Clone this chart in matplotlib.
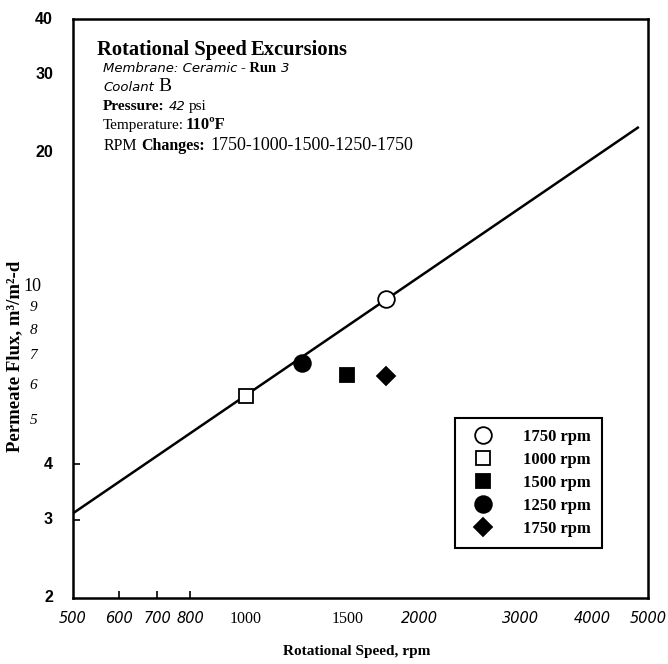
import matplotlib
matplotlib.use("Agg")
import matplotlib.pyplot as plt
from matplotlib.lines import Line2D
from matplotlib.transforms import blended_transform_factory

# ---- data ----
speeds = [1750, 1000, 1500, 1250, 1750]
flux = [9.4, 5.7, 6.35, 6.75, 6.3]
markers = ['o', 's', 's', 'o', 'D']
filled = [False, False, True, True, True]
labels = ['1750 rpm', '1000 rpm', '1500 rpm', '1250 rpm', '1750 rpm']

fit_x = [500, 4800]
fit_y = [3.1, 22.8]

xtick_vals = [500, 600, 700, 800, 1000, 1500, 2000, 3000, 4000, 5000]
xtick_text = ['500', '600', '700', '800', '1000', '1500', '2000', '3000', '4000', '5000']
ytick_vals = [40, 30, 20, 10, 9, 8, 7, 6, 5, 4, 3, 2]
ytick_text = ['40', '30', '20', '10', '9', '8', '7', '6', '5', '4', '3', '2']

W, H = 668, 664
fig = plt.figure(figsize=(W / 100, H / 100), dpi=100)
ax = fig.add_axes([73 / W, 1 - 598 / H, (648 - 73) / W, (598 - 19) / H])
ax.set_xscale('log')
ax.set_yscale('log')
ax.set_xlim(500, 5000)
ax.set_ylim(2, 40)
for s in ax.spines.values():
    s.set_linewidth(1.8)

SERIF = ['Liberation Serif', 'DejaVu Serif']
NARROW = ['DejaVu Sans']
SANS = ['Liberation Sans', 'DejaVu Sans']

# regression line
ax.plot(fit_x, fit_y, color='black', lw=1.8, zorder=2)

handles = []
for xv, yv, m, f, lab in zip(speeds, flux, markers, filled, labels):
    ms = {'o': 12, 's': 10, 'D': 9.5}[m]
    style = dict(linestyle='none', marker=m, markersize=ms,
                 markerfacecolor='black' if f else 'white',
                 markeredgecolor='black', markeredgewidth=1.3)
    ax.plot([xv], [yv], zorder=3, **style)
    handles.append(Line2D([], [], label=lab, **style))

# ticks
ax.xaxis.set_minor_locator(matplotlib.ticker.NullLocator())
ax.yaxis.set_minor_locator(matplotlib.ticker.NullLocator())
ax.set_xticks([600, 700, 800], ['', '', ''])
ax.set_yticks([3, 4], ['', ''])
ax.tick_params(axis='both', direction='in', length=5, width=1.2)

# x tick labels
tx = blended_transform_factory(ax.transData, fig.transFigure)
for v, t in zip(xtick_vals, xtick_text):
    if t in ('1000', '1500'):
        ax.text(v, 1 - 623 / H, t, transform=tx, ha='center', va='baseline',
                family=SERIF, fontsize=11.5)
    else:
        ax.text(v, 1 - 623 / H, t, transform=tx, ha='center', va='baseline',
                family=NARROW, style='italic', fontsize=10.5)

# y tick labels
ty = blended_transform_factory(fig.transFigure, ax.transData)
for v, t in zip(ytick_vals, ytick_text):
    if t in ('40', '30', '20', '4', '3', '2'):
        ax.text(53 / W, v, t, transform=ty, ha='right', va='center',
                family=SANS, weight='bold', fontsize=11.5)
    elif t == '10':
        ax.text(41 / W, v, t, transform=ty, ha='right', va='center',
                family=SERIF, fontsize=13)
    else:
        ax.text(37 / W, v, t, transform=ty, ha='right', va='center',
                family=SERIF, style='italic', fontsize=11)

# axis labels
fig.text(357 / W, 1 - 652 / H, 'Rotational Speed, rpm', ha='center', va='center',
         family=SERIF, weight='bold', fontsize=11)
fig.text(15 / W, 1 - 356 / H, 'Permeate Flux, m³/m²-d', ha='center', va='center',
         rotation=90, family=SERIF, weight='bold', fontsize=13.5)

# annotation block with mixed fonts
renderer = fig.canvas.get_renderer()


def rich(x, y, parts):
    cx = x
    for s, kw, gap in parts:
        t = fig.text(cx / W, 1 - y / H, s, ha='left', va='baseline', **kw)
        bb = t.get_window_extent(renderer)
        cx = bb.x1 + gap


bold_serif = dict(family=SERIF, weight='bold')
reg_serif = dict(family=SERIF)
it_narrow = dict(family=NARROW, style='italic')

rich(97, 55, [('Rotational Speed', dict(bold_serif, fontsize=14.8), 4),
              ('Excursions', dict(bold_serif, fontsize=14.8), 0)])
rich(103, 72, [('Membrane: Ceramic', dict(it_narrow, fontsize=9.5), 4),
               ('- Run', dict(bold_serif, fontsize=10.5), 4),
               ('3', dict(it_narrow, fontsize=9.5), 0)])
rich(103, 91, [('Coolant', dict(it_narrow, fontsize=9.5), 5),
               ('B', dict(reg_serif, fontsize=14), 0)])
rich(103, 110, [('Pressure:', dict(bold_serif, fontsize=11), 4),
                ('42', dict(it_narrow, fontsize=9.5), 3),
                ('psi', dict(reg_serif, fontsize=11), 0)])
rich(103, 129, [('Temperature:', dict(reg_serif, fontsize=11), 2),
                ('110ºF', dict(bold_serif, fontsize=12), 0)])
rich(104, 150, [('RPM', dict(reg_serif, fontsize=11.5), 4),
                ('Changes:', dict(bold_serif, fontsize=11.5), 5),
                ('1750-1000-1500-1250-1750', dict(reg_serif, fontsize=13), 0)])

# legend
leg = ax.legend(handles=handles, loc='upper left',
                bbox_to_anchor=((455 - 73) / (648 - 73), 1 - (418 - 19) / (598 - 19)),
                frameon=True, fancybox=False, edgecolor='black', framealpha=1,
                prop=dict(family=SERIF, weight='bold', size=12),
                handletextpad=1.45, labelspacing=0.42, borderpad=0.65,
                handlelength=2.0, borderaxespad=0)
leg.get_frame().set_linewidth(1.5)

fig.savefig('out.png', dpi=100)
